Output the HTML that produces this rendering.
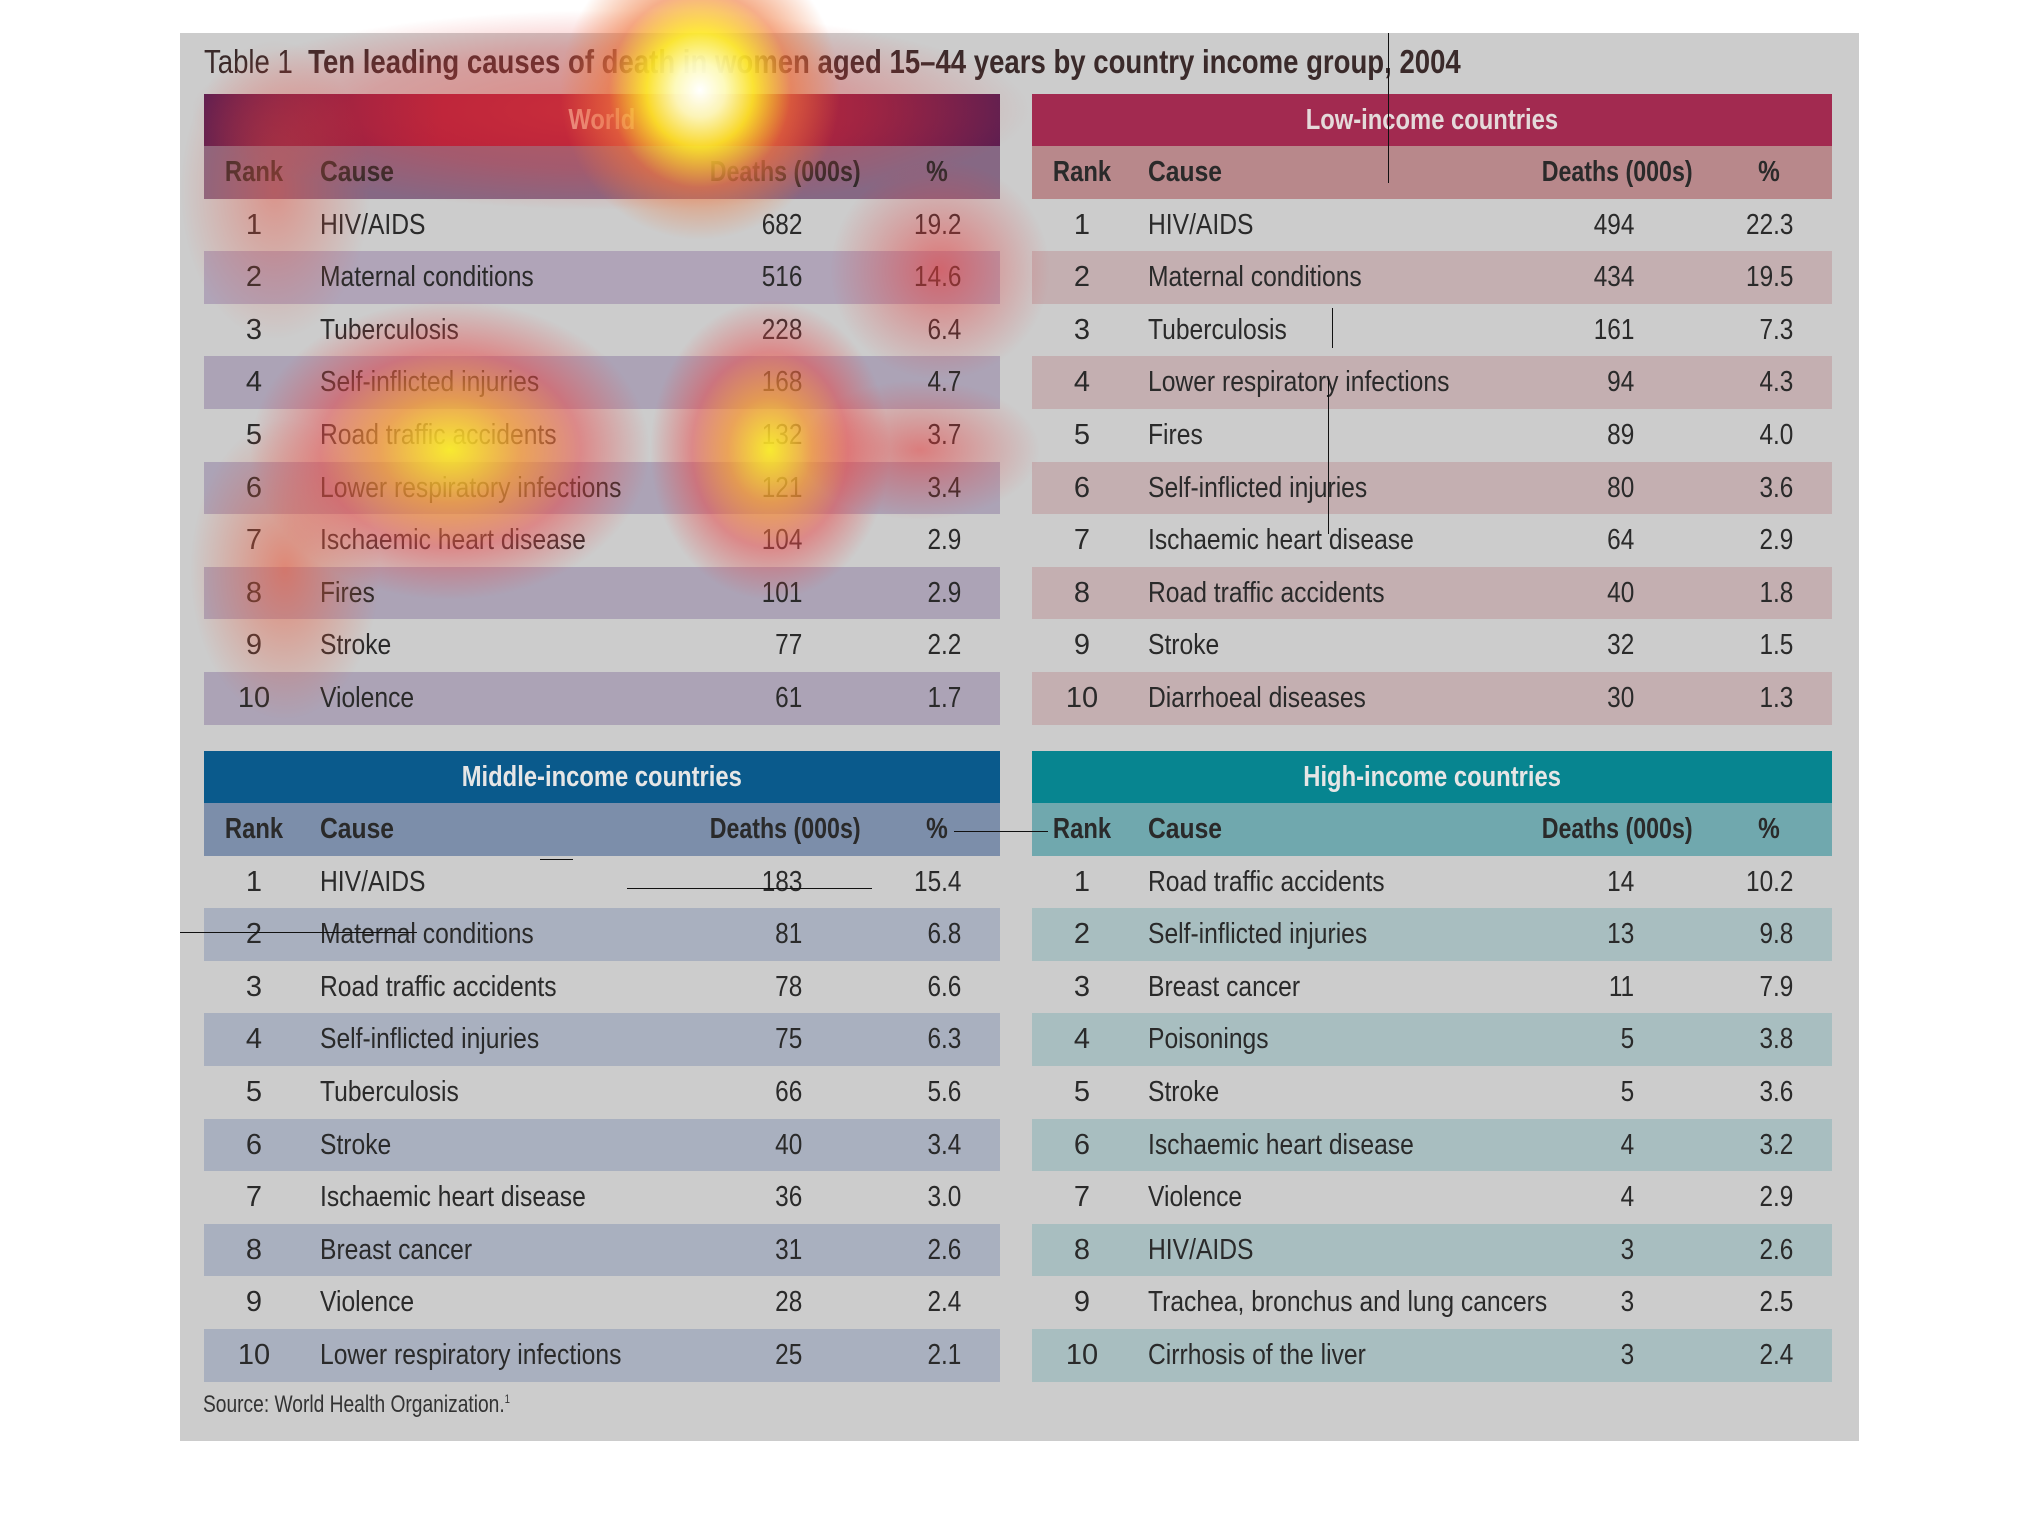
<!DOCTYPE html>
<html><head><meta charset="utf-8"><style>
*{margin:0;padding:0;box-sizing:border-box}
body{width:2042px;height:1530px;background:#fff;position:relative;overflow:hidden;font-family:"Liberation Sans",sans-serif;color:#2a2a2a}
#bg{position:absolute;left:180px;top:33px;width:1679px;height:1408px;background:#cccccc}
.p{position:absolute;width:796px}
.h{height:52px;text-align:center;line-height:52px;font-weight:bold;font-size:29px;color:#eee}
.h span{display:inline-block;transform:scaleX(.82)}
.r{position:relative;height:52.6px;font-size:29px;line-height:52.6px}
.r span{position:absolute;top:0;white-space:nowrap}
.a{left:0;width:100px;text-align:center}
.b{left:116px;transform:scaleX(.85);transform-origin:left}
.c{right:198px;transform:scaleX(.84);transform-origin:right}
.d{right:39px;transform:scaleX(.84);transform-origin:right}
.ch{font-weight:bold}
.ch .a{transform:scaleX(.82)}
.ch .c{right:139px;transform:scaleX(.8)}
.ch .d{right:52px}
.hm{position:absolute;pointer-events:none}
.ln{position:absolute;background:#111}
</style></head><body>
<div id="bg"></div>
<div style="position:absolute;left:204px;top:41px;font-size:33px;line-height:42px;white-space:nowrap;transform:scaleX(.835);transform-origin:left;color:#3a2a2a"><span style="font-weight:normal">Table 1</span>&nbsp;&nbsp;<b>Ten leading causes of death in women aged 15–44 years by country income group, 2004</b></div>

<div class="p" style="left:204px;top:94px">
<div class="h" style="background:linear-gradient(90deg,#5e1e50,#a8173a 30%,#a8173a 65%,#5e1e50);color:#e8c0b8"><span>World</span></div>
<div class="r ch" style="background:#866884"><span class="a">Rank</span><span class="b">Cause</span><span class="c">Deaths (000s)</span><span class="d">%</span></div>
<div class="r"><span class="a">1</span><span class="b">HIV/AIDS</span><span class="c">682</span><span class="d">19.2</span></div>
<div class="r" style="background:#b0a4b8"><span class="a">2</span><span class="b">Maternal conditions</span><span class="c">516</span><span class="d">14.6</span></div>
<div class="r"><span class="a">3</span><span class="b">Tuberculosis</span><span class="c">228</span><span class="d">6.4</span></div>
<div class="r" style="background:#aca3b6"><span class="a">4</span><span class="b">Self-inflicted injuries</span><span class="c">168</span><span class="d">4.7</span></div>
<div class="r"><span class="a">5</span><span class="b">Road traffic accidents</span><span class="c">132</span><span class="d">3.7</span></div>
<div class="r" style="background:#aca3b6"><span class="a">6</span><span class="b">Lower respiratory infections</span><span class="c">121</span><span class="d">3.4</span></div>
<div class="r"><span class="a">7</span><span class="b">Ischaemic heart disease</span><span class="c">104</span><span class="d">2.9</span></div>
<div class="r" style="background:#aca3b6"><span class="a">8</span><span class="b">Fires</span><span class="c">101</span><span class="d">2.9</span></div>
<div class="r"><span class="a">9</span><span class="b">Stroke</span><span class="c">77</span><span class="d">2.2</span></div>
<div class="r" style="background:#aca3b6"><span class="a">10</span><span class="b">Violence</span><span class="c">61</span><span class="d">1.7</span></div>
</div>

<div class="p" style="left:1032px;top:94px;width:800px">
<div class="h" style="background:#a22a50;color:#e4dada"><span>Low-income countries</span></div>
<div class="r ch" style="background:#b8888b"><span class="a">Rank</span><span class="b">Cause</span><span class="c">Deaths (000s)</span><span class="d">%</span></div>
<div class="r"><span class="a">1</span><span class="b">HIV/AIDS</span><span class="c">494</span><span class="d">22.3</span></div>
<div class="r" style="background:#c4afb1"><span class="a">2</span><span class="b">Maternal conditions</span><span class="c">434</span><span class="d">19.5</span></div>
<div class="r"><span class="a">3</span><span class="b">Tuberculosis</span><span class="c">161</span><span class="d">7.3</span></div>
<div class="r" style="background:#c4afb1"><span class="a">4</span><span class="b">Lower respiratory infections</span><span class="c">94</span><span class="d">4.3</span></div>
<div class="r"><span class="a">5</span><span class="b">Fires</span><span class="c">89</span><span class="d">4.0</span></div>
<div class="r" style="background:#c4afb1"><span class="a">6</span><span class="b">Self-inflicted injuries</span><span class="c">80</span><span class="d">3.6</span></div>
<div class="r"><span class="a">7</span><span class="b">Ischaemic heart disease</span><span class="c">64</span><span class="d">2.9</span></div>
<div class="r" style="background:#c4afb1"><span class="a">8</span><span class="b">Road traffic accidents</span><span class="c">40</span><span class="d">1.8</span></div>
<div class="r"><span class="a">9</span><span class="b">Stroke</span><span class="c">32</span><span class="d">1.5</span></div>
<div class="r" style="background:#c4afb1"><span class="a">10</span><span class="b">Diarrhoeal diseases</span><span class="c">30</span><span class="d">1.3</span></div>
</div>

<div class="p" style="left:204px;top:751px">
<div class="h" style="background:#0a5a8c;color:#e6e6e6"><span>Middle-income countries</span></div>
<div class="r ch" style="background:#7c8eaa"><span class="a">Rank</span><span class="b">Cause</span><span class="c">Deaths (000s)</span><span class="d">%</span></div>
<div class="r"><span class="a">1</span><span class="b">HIV/AIDS</span><span class="c">183</span><span class="d">15.4</span></div>
<div class="r" style="background:#a9b0bf"><span class="a">2</span><span class="b">Maternal conditions</span><span class="c">81</span><span class="d">6.8</span></div>
<div class="r"><span class="a">3</span><span class="b">Road traffic accidents</span><span class="c">78</span><span class="d">6.6</span></div>
<div class="r" style="background:#a9b0bf"><span class="a">4</span><span class="b">Self-inflicted injuries</span><span class="c">75</span><span class="d">6.3</span></div>
<div class="r"><span class="a">5</span><span class="b">Tuberculosis</span><span class="c">66</span><span class="d">5.6</span></div>
<div class="r" style="background:#a9b0bf"><span class="a">6</span><span class="b">Stroke</span><span class="c">40</span><span class="d">3.4</span></div>
<div class="r"><span class="a">7</span><span class="b">Ischaemic heart disease</span><span class="c">36</span><span class="d">3.0</span></div>
<div class="r" style="background:#a9b0bf"><span class="a">8</span><span class="b">Breast cancer</span><span class="c">31</span><span class="d">2.6</span></div>
<div class="r"><span class="a">9</span><span class="b">Violence</span><span class="c">28</span><span class="d">2.4</span></div>
<div class="r" style="background:#a9b0bf"><span class="a">10</span><span class="b">Lower respiratory infections</span><span class="c">25</span><span class="d">2.1</span></div>
</div>

<div class="p" style="left:1032px;top:751px;width:800px">
<div class="h" style="background:#078590;color:#e6e6e6"><span>High-income countries</span></div>
<div class="r ch" style="background:#70a8ae"><span class="a">Rank</span><span class="b">Cause</span><span class="c">Deaths (000s)</span><span class="d">%</span></div>
<div class="r"><span class="a">1</span><span class="b">Road traffic accidents</span><span class="c">14</span><span class="d">10.2</span></div>
<div class="r" style="background:#a8bec0"><span class="a">2</span><span class="b">Self-inflicted injuries</span><span class="c">13</span><span class="d">9.8</span></div>
<div class="r"><span class="a">3</span><span class="b">Breast cancer</span><span class="c">11</span><span class="d">7.9</span></div>
<div class="r" style="background:#a8bec0"><span class="a">4</span><span class="b">Poisonings</span><span class="c">5</span><span class="d">3.8</span></div>
<div class="r"><span class="a">5</span><span class="b">Stroke</span><span class="c">5</span><span class="d">3.6</span></div>
<div class="r" style="background:#a8bec0"><span class="a">6</span><span class="b">Ischaemic heart disease</span><span class="c">4</span><span class="d">3.2</span></div>
<div class="r"><span class="a">7</span><span class="b">Violence</span><span class="c">4</span><span class="d">2.9</span></div>
<div class="r" style="background:#a8bec0"><span class="a">8</span><span class="b">HIV/AIDS</span><span class="c">3</span><span class="d">2.6</span></div>
<div class="r"><span class="a">9</span><span class="b">Trachea, bronchus and lung cancers</span><span class="c">3</span><span class="d">2.5</span></div>
<div class="r" style="background:#a8bec0"><span class="a">10</span><span class="b">Cirrhosis of the liver</span><span class="c">3</span><span class="d">2.4</span></div>
</div>

<div style="position:absolute;left:203px;top:1391px;font-size:24px;white-space:nowrap;transform:scaleX(.8);transform-origin:left;color:#333">Source: World Health Organization.<sup style="font-size:12px">1</sup></div>

<!-- heatmap -->
<div class="hm" style="left:190px;top:10px;width:840px;height:200px;background:radial-gradient(closest-side,rgba(235,70,60,.5),rgba(230,60,60,.3) 60%,rgba(230,60,60,0))"></div>
<div class="hm" style="left:560px;top:-60px;width:280px;height:300px;background:radial-gradient(closest-side,rgba(255,255,255,1) 0,rgba(255,255,190,.95) 18%,rgba(255,235,40,.9) 38%,rgba(240,120,60,.6) 65%,rgba(220,60,60,0))"></div>
<div class="hm" style="left:830px;top:160px;width:220px;height:220px;background:radial-gradient(closest-side,rgba(230,60,60,.6),rgba(230,60,60,0))"></div>
<div class="hm" style="left:250px;top:300px;width:400px;height:300px;background:radial-gradient(closest-side,rgba(250,235,40,.95) 0,rgba(245,150,50,.75) 35%,rgba(235,70,70,.5) 65%,rgba(230,60,60,0))"></div>
<div class="hm" style="left:650px;top:300px;width:240px;height:300px;background:radial-gradient(closest-side,rgba(250,235,40,.95) 0,rgba(245,150,50,.75) 35%,rgba(235,70,70,.5) 65%,rgba(230,60,60,0))"></div>
<div class="hm" style="left:800px;top:380px;width:240px;height:140px;background:radial-gradient(closest-side,rgba(230,60,60,.55),rgba(230,60,60,0))"></div>
<div class="hm" style="left:190px;top:420px;width:190px;height:300px;background:radial-gradient(closest-side,rgba(235,90,60,.6),rgba(230,60,60,0))"></div>
<div class="hm" style="left:180px;top:40px;width:190px;height:300px;background:radial-gradient(closest-side,rgba(235,80,60,.45),rgba(230,60,60,0))"></div>

<!-- stray lines -->
<div class="ln" style="left:1388px;top:33px;width:1px;height:150px"></div>
<div class="ln" style="left:1332px;top:308px;width:1px;height:40px"></div>
<div class="ln" style="left:1328px;top:378px;width:1px;height:156px"></div>
<div class="ln" style="left:954px;top:831px;width:94px;height:1px"></div>
<div class="ln" style="left:627px;top:888px;width:245px;height:1px"></div>
<div class="ln" style="left:180px;top:932px;width:237px;height:1px"></div>
<div class="ln" style="left:540px;top:859px;width:33px;height:1px"></div>
</body></html>
